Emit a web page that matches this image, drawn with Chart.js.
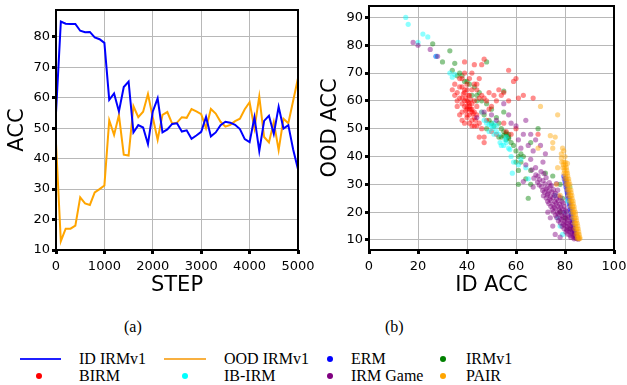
<!DOCTYPE html>
<html>
<head>
<meta charset="utf-8">
<script src="https://cdn.jsdelivr.net/npm/chart.js@4/dist/chart.umd.min.js"></script>
<style>
  html, body { margin: 0; padding: 0; background: #ffffff; width: 627px; height: 385px; overflow: hidden; }
  #c1 { position: absolute; left: 0; top: 0; }
  #c2 { position: absolute; left: 310px; top: 0; }
  .t { position: absolute; font-family: "Liberation Serif", "DejaVu Serif", serif; font-size: 16px; line-height: 16px; color: #000; white-space: nowrap; }
  .ln { position: absolute; height: 2px; }
  .dot { position: absolute; width: 6px; height: 6px; border-radius: 50%; }
</style>
</head>
<body>
<canvas id="c1" width="320" height="300"></canvas>
<canvas id="c2" width="317" height="300"></canvas>

<div class="t" style="left:124px; top:319px;">(a)</div>
<div class="t" style="left:385px; top:319px;">(b)</div>

<div class="ln" style="left:20px; top:358px; width:41px; background:#2020ff;"></div>
<div class="t" style="left:79px; top:351px;">ID IRMv1</div>
<div class="ln" style="left:164px; top:358px; width:42px; background:#f8b040;"></div>
<div class="t" style="left:224px; top:351px;">OOD IRMv1</div>
<div class="dot" style="left:327px; top:356px; background:#0000ff;"></div>
<div class="t" style="left:351px; top:351px;">ERM</div>
<div class="dot" style="left:440px; top:356px; background:#008000;"></div>
<div class="t" style="left:466px; top:351px;">IRMv1</div>

<div class="dot" style="left:36px; top:373px; background:#ff0000;"></div>
<div class="t" style="left:79px; top:368px;">BIRM</div>
<div class="dot" style="left:182px; top:373px; background:#00ffff;"></div>
<div class="t" style="left:224px; top:368px;">IB-IRM</div>
<div class="dot" style="left:327px; top:373px; background:#800080;"></div>
<div class="t" style="left:351px; top:368px;">IRM Game</div>
<div class="dot" style="left:440px; top:373px; background:#ffa500;"></div>
<div class="t" style="left:466px; top:368px;">PAIR</div>

<script>
// ---------- (a) training curves ----------
const steps = [0,100,200,300,400,500,600,700,800,900,1000,1100,1200,1300,1400,1500,1600,1700,1800,1900,2000,2100,2200,2300,2400,2500,2600,2700,2800,2900,3000,3100,3200,3300,3400,3500,3600,3700,3800,3900,4000,4100,4200,4300,4400,4500,4600,4700,4800,4900,5000];
const idIRMv1 = [55,85,84.3,84.2,84.2,82,81.5,81.6,79.8,79.2,78,59.3,61.4,55.5,63.5,65.3,48.6,51,50.2,44.8,55.5,59.8,48.6,49.6,51.4,51.6,48.9,49.3,46.5,47.6,48.8,53.7,47.3,48.6,51,52.1,51.8,51.1,49.7,46.4,45.4,53.6,42.5,52.4,54.1,48.1,57,49.9,51,43,36.5];
const oodIRMv1 = [45,12.9,17,17,18,27.3,25.3,24.8,28.9,30,31.2,52.6,47.8,54.3,41.3,41,57.2,53.6,55.4,61.2,53.5,46.2,54.4,55.3,51.5,51.8,53.6,53.4,56.3,55.5,54.6,50,56.3,54.8,52.1,50.5,51.1,52.3,53.1,56.2,58.5,50,60.4,47.1,45.3,52,42.8,53.1,51.6,59,66.4];
const accTicks = [10,20,30,40,50,60,70,80];
const stepTicks = [0,1000,2000,3000,4000,5000];

// ---------- (b) ID vs OOD accuracy, [ID ACC, OOD ACC] ----------
const ermPts = [[79.5,33],[79.7,32],[80.3,32],[80,31],[80.5,31],[80.2,30],[80.4,29],[80.9,29],[80.7,28],[80.9,27],[81.3,27],[81.1,26],[81.3,25],[81.7,25],[81.5,24],[81.7,23],[82.1,23],[81.9,22],[82.1,21],[82.5,21],[82.3,20],[82.5,19],[82.9,19],[82.7,18],[82.9,17],[83.3,17],[83.1,16],[83.3,15],[83.7,15],[83.5,14],[83.8,13],[84.1,13],[84.1,12],[84.4,11],[84.8,11],[85,10.5],[27.3,76]];
const irmv1Pts = [[26,80.5],[30,74],[33,78],[35,73.5],[34,71],[36,69],[37,70],[38,69],[40,67],[41,66],[43,65],[44,62],[46,60],[48,59],[50,57],[52,54],[53,52],[54,50],[55,49],[56,48],[57,47],[58,45],[59,44],[60,42],[62,41],[63,40],[62,38],[61,35],[61,30],[64,32],[66,35],[66,30],[65,25],[48,74],[45,63],[47,55],[49,53],[51,51],[55,56],[55,63.5],[57,48],[53,47],[56,46],[42,62],[39,67],[44,60],[69,50],[72,34],[75,33],[78,30],[79,25],[78,20],[80,18],[82,14],[48,50],[50,52],[54,47],[60,38],[61,40],[66,45],[56,48.5],[57,46.5],[55,47.5]];
const birmPts = [[34,64],[35,66],[35,62],[36,63],[37,61],[37,65],[38,68],[38,59],[39,60],[39,63],[39,70],[40,64],[40,58],[40,55],[41,57],[41,62],[41,58],[42,56],[42,59],[42,53],[43,54],[43,51],[44,51],[44,55],[45,52],[45,47],[46,50],[47,45],[47,47],[37,55],[38,53],[39,52],[36,58],[43,60],[44,64],[45,61],[46,62],[47,61],[48,60],[47,75],[46,73],[43,73],[39,74],[41,68],[42,70],[44,66],[49,63],[51,62],[53,64],[55,63],[57,60],[57,71],[59,67],[60,68],[61,61],[63,62],[67,61],[69,48],[60,50],[58,48],[50,49],[52,48],[55,52],[56,49],[38,56],[36,60],[40,66],[38,65],[42,64],[41,52],[40,54],[44,58],[46,56],[48,53],[49,57],[50,58],[52,60],[54,62],[45,68],[43,66],[37,68],[41,59],[42,57],[40,60],[39,64],
[38.5,62.5],[39.5,61],[40.5,59.5],[41.5,57],[42.5,55.5],[43.5,53],[40,57],[41,55],[39,58],[42,51],[43,56],[38,61],[40.5,62],[41.5,60.5],[39.5,56.5]];
const ibirmPts = [[15,90],[16,87.5],[20,81],[22,84],[24,83],[27.5,76],[33,70],[34,68.5],[35,69.5],[46,56],[47,53],[48,52],[49,51.5],[50,51],[50.5,50],[51,52],[52,49],[53,48],[53.5,45],[54,44],[55,44],[55.5,46],[56,45],[57,43],[57.5,42.5],[58,40],[58.5,34],[59,38],[61,37],[62,39],[52,51],[49,49],[51,48],[56,47],[64,36],[65,32],[78,15],[79,12],[80,20],[81,24],[82,29],[77,18],[76,26]];
const irmGamePts = [[18,81],[20,80],[25,78.5],[28,76],[44,54],[47,56],[50,55],[52,53],[55,59],[57,55],[58,52],[60,51],[61,46],[63,48],[64,53],[66,48],[62,43],[65,44],[67,42],[68,46],[70,44],[72,41],[71,38],[68,36],[66,39],[64,37],[69,33],[63,31],[67,29],[76,12],[75,15],[74,18],[73,20],[78,11],
[66.5,35.2],[70.2,34.6],[68.1,33.4],[71.4,33.9],[67.3,32.2],[69.6,31.7],[72.3,32.4],[68.8,30.8],[71,31.3],[73.6,30.6],[69.5,29.8],[71.8,30.2],[74.4,29.6],[76.5,30.3],[70.4,29.1],[72.6,28.7],[73.9,29.2],
[70.9,27.8],[72.2,28.3],[73.5,27.6],[75.3,28.1],[77,27.9],[71.6,27.2],[73,26.7],[74.6,27.3],[76.1,26.8],[71.2,25.9],[72.8,26.2],[74.1,25.7],[75.7,26.1],[77.4,25.8],
[72.3,25.1],[73.8,24.7],[75.2,25.3],[76.6,24.8],[78.1,25.2],[72.9,23.9],[74.3,24.2],[75.9,23.7],[77.2,24.1],[78.8,23.8],[73.4,23.1],[75.1,22.7],[76.4,23.2],[77.8,22.8],[79.2,23.3],
[74.2,22.1],[75.6,21.7],[77.1,22.2],[78.3,21.8],[79.7,22.1],[74.8,20.9],[76.2,21.3],[77.6,20.8],[78.9,21.2],[80.2,20.7],[75.3,20.1],[76.9,19.7],[78.1,20.2],[79.4,19.8],[80.6,20.3],
[76.1,18.9],[77.4,19.3],[78.7,18.8],[80,19.2],[81.1,18.7],[76.6,18.1],[78,17.7],[79.2,18.2],[80.4,17.8],[81.5,18.2],[77.3,16.9],[78.6,17.3],[79.8,16.8],[80.9,17.2],[82,16.8],
[78.1,16.1],[79.3,15.7],[80.3,16.2],[81.4,15.8],[82.4,16.1],[78.8,14.9],[79.9,15.3],[80.9,14.8],[81.9,15.2],[82.9,14.7],[79.6,14.1],[80.6,13.7],[81.5,14.2],[82.5,13.8],[83.4,14.1],
[80.4,12.9],[81.3,13.3],[82.2,12.8],[83.1,13.2],[83.9,12.7],[81.2,12.1],[82.1,11.7],[83,12.2],[83.8,11.8],[84.6,12.1],[82.4,10.9],[83.3,11.3],[84.1,10.8],[85,11.2],[83.7,10.4],[84.6,10.6],[85.4,10.3]];
const pairPts = [[78.7,38],[79.5,38],[80.1,38],[79.3,37],[80.2,37],[79.1,36],[79.9,36],[80.6,36],[79.8,35],[80.7,35],[79.6,34],[80.4,34],[81,34],[80.2,33],[81.1,33],[80,32],[80.8,32],[81.5,32],[80.7,31],[81.6,31],[80.5,30],[81.3,30],[82,30],[81.1,29],[82,29],[81,28],[81.7,28],[82.4,28],[81.6,27],[82.5,27],[81.4,26],[82.2,26],[82.8,26],[82.1,25],[82.9,25],[81.9,24],[82.6,24],[83.3,24],[82.5,23],[83.4,23],[82.3,22],[83.1,22],[83.7,22],[83,21],[83.8,21],[82.8,20],[83.5,20],[84.2,20],[83.4,19],[84.3,19],[83.2,18],[84,18],[84.6,18],[83.9,17],[84.7,17],[83.7,16],[84.4,16],[85,16],[84.3,15],[85.2,15],[84.1,14],[84.9,14],[85.4,14],[84.8,13],[85.6,13],[84.6,12],[85.3,12],[85.8,12],[85.2,11],[86,11],[85,10.5],[85.7,10.5],[86.1,10.5],
[70,58],[77,55],[74,47.5],[76,47],[75,45],[75,43],[69,43],[79,43],[79.5,42],[80,40],[78.5,39.5],[77,36],[76.5,30],[78,26],[81,37.5],[78.5,41]];
const oodTicks = [10,20,30,40,50,60,70,80,90];
const idTicks = [0,20,40,60,80,100];

// ---------- common styling ----------
const TICK_FONT = { family: 'DejaVu Sans', size: 13 };
const TITLE_FONT = { family: 'DejaVu Sans', size: 21 };
const GRID = { color: '#b8b8b8', lineWidth: 1, tickColor: '#000', tickLength: 4, tickWidth: 3 };

const frame = {
  id: 'frame',
  afterDraw(chart) {
    const a = chart.chartArea, ctx = chart.ctx;
    ctx.save();
    ctx.strokeStyle = '#000';
    ctx.lineWidth = 2;
    ctx.strokeRect(a.left, a.top, a.right - a.left, a.bottom - a.top);
    ctx.restore();
  }
};

function fixedTicks(list) {
  return function (scale) { scale.ticks = list.map(v => ({ value: v })); };
}
const plainLabel = v => String(v);

// ---------- chart (a) ----------
new Chart(document.getElementById('c1'), {
  type: 'line',
  data: {
    datasets: [
      { label: 'ID IRMv1', data: steps.map((s, i) => ({ x: s, y: idIRMv1[i] })), borderColor: '#0000ff', borderWidth: 2, pointRadius: 0, tension: 0 },
      { label: 'OOD IRMv1', data: steps.map((s, i) => ({ x: s, y: oodIRMv1[i] })), borderColor: '#ffa500', borderWidth: 2, pointRadius: 0, tension: 0 }
    ]
  },
  options: {
    responsive: false, animation: false,
    layout: { padding: { left: 0, top: 10, right: 22, bottom: 0 } },
    plugins: { legend: { display: false }, tooltip: { enabled: false } },
    scales: {
      x: {
        type: 'linear', min: 0, max: 5000,
        afterBuildTicks: fixedTicks(stepTicks),
        afterFit: s => { s.height = 50; s.paddingLeft = 0; s.paddingRight = 0; },
        grid: GRID, border: { display: false },
        ticks: { font: TICK_FONT, color: '#000', padding: 5, maxRotation: 0, callback: plainLabel },
        title: { display: true, text: 'STEP', font: TITLE_FONT, color: '#000', padding: { top: 0, bottom: 2 } }
      },
      y: {
        type: 'linear', min: 10, max: 88.8,
        afterBuildTicks: fixedTicks(accTicks),
        afterFit: s => { s.width = 56; s.paddingTop = 0; s.paddingBottom = 0; },
        grid: GRID, border: { display: false },
        ticks: { font: TICK_FONT, color: '#000', padding: 2, callback: plainLabel },
        title: { display: true, text: 'ACC', font: TITLE_FONT, color: '#000', padding: { top: 5, bottom: 0 } }
      }
    }
  },
  plugins: [frame]
});

// ---------- chart (b) ----------
function sc(label, pts, rgb, order) {
  return {
    label: label,
    data: pts.map(p => ({ x: p[0], y: p[1] })),
    backgroundColor: 'rgba(' + rgb + ',0.45)',
    borderWidth: 0, pointRadius: 2.6, order: order
  };
}
new Chart(document.getElementById('c2'), {
  type: 'scatter',
  data: {
    datasets: [
      sc('ERM', ermPts, '0,0,255', 6),
      sc('IRMv1', irmv1Pts, '0,128,0', 5),
      sc('BIRM', birmPts, '255,0,0', 4),
      sc('IB-IRM', ibirmPts, '0,255,255', 3),
      sc('IRM Game', irmGamePts, '128,0,128', 2),
      sc('PAIR', pairPts, '255,165,0', 1)
    ]
  },
  options: {
    responsive: false, animation: false,
    layout: { padding: { left: 0, top: 6, right: 13, bottom: 0 } },
    plugins: { legend: { display: false }, tooltip: { enabled: false } },
    scales: {
      x: {
        type: 'linear', min: 0, max: 100,
        afterBuildTicks: fixedTicks(idTicks),
        afterFit: s => { s.height = 50; s.paddingLeft = 0; s.paddingRight = 0; },
        grid: GRID, border: { display: false },
        ticks: { font: TICK_FONT, color: '#000', padding: 5, maxRotation: 0, callback: plainLabel },
        title: { display: true, text: 'ID ACC', font: TITLE_FONT, color: '#000', padding: { top: 0, bottom: 2 } }
      },
      y: {
        type: 'linear', min: 6.4, max: 94.1,
        afterBuildTicks: fixedTicks(oodTicks),
        afterFit: s => { s.width = 59; s.paddingTop = 0; s.paddingBottom = 0; },
        grid: GRID, border: { display: false },
        ticks: { font: TICK_FONT, color: '#000', padding: 2, callback: plainLabel },
        title: { display: true, text: 'OOD ACC', font: TITLE_FONT, color: '#000', padding: { top: 8, bottom: 0 } }
      }
    }
  },
  plugins: [frame]
});
</script>
</body>
</html>
